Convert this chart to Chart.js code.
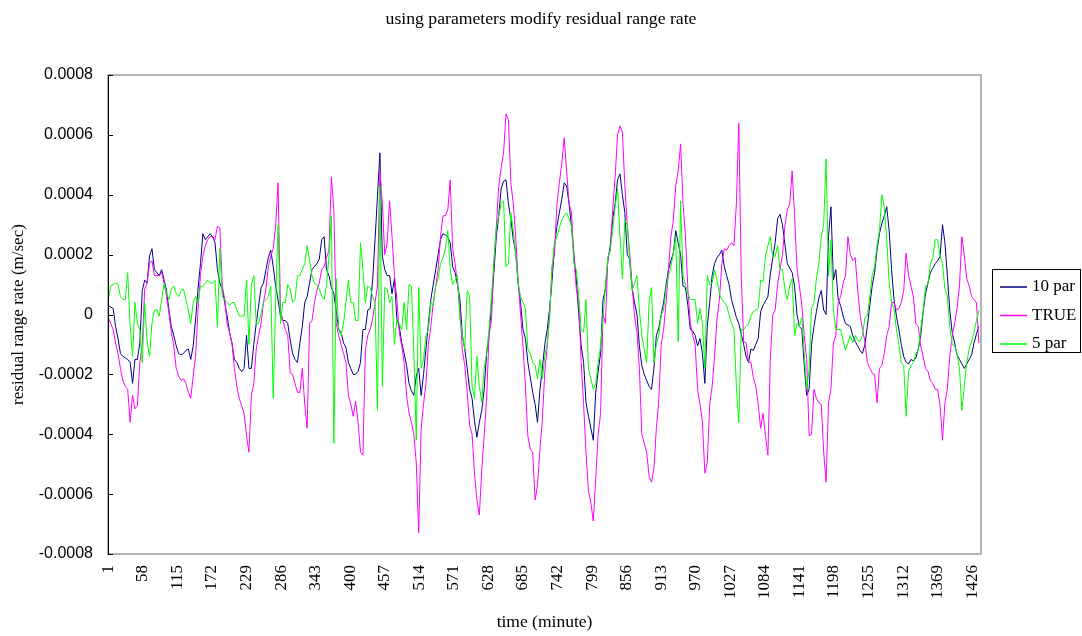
<!DOCTYPE html>
<html>
<head>
<meta charset="utf-8">
<script src="https://cdn.jsdelivr.net/npm/chart.js@4.4.1/dist/chart.umd.min.js"></script>
<style>
  html, body { margin: 0; padding: 0; background: #fff; }
  canvas { display: block; }
</style>
</head>
<body>
<canvas id="residualChart" width="1082" height="636"></canvas>
<script>
// residuals every 4 minutes (minute 1, 5, 9, ...), in units of 1e-4 m/sec
const UNIT = 1e-4;
const STEP = 4;

const par10 = [
  0.3, 0.25, 0.2, -0.4, -0.8, -1.3, -1.4, -1.45, -1.5, -1.6, -2.3, -1.5, -1.5, -0.95, 0.8, 1.15, 1.05, 1.95, 2.2, 1.5,
  1.4, 1.3, 1.5, 1.15, 0.8, 0.15, -0.4, -0.7, -1.05, -1.3, -1.35, -1.3, -1.2, -1.15, -1.5, -1.05, -0.15, 0.85, 1.7, 2.7,
  2.5, 2.6, 2.7, 2.6, 2.4, 1.5, 1.05, 0.85, 0.4, -0.05, -0.6, -0.95, -1.5, -1.6, -1.8, -1.9, -1.8, -0.7, -1.8, -1.8,
  -1.0, -0.3, 0.3, 0.9, 1.05, 1.5, 1.9, 2.15, 1.6, 0.95, 0.5, -0.05, -0.2, -0.2, -0.3, -0.85, -1.3, -1.5, -1.6, -0.95,
  -0.4, 0.4, 0.6, 1.05, 1.5, 1.6, 1.7, 1.85, 2.5, 2.6, 1.5, 1.3, 0.9, 0.7, 0.1, -0.5, -0.6, -0.95, -1.1, -1.6,
  -1.8, -2.0, -2.0, -1.9, -1.6, -0.5, -0.5, 0.15, 0.2, 1.15, 2.5, 3.95, 5.4, 1.95, 1.5, 1.3, 1.3, 0.7, 1.2, -0.15,
  -0.4, -0.95, -1.3, -1.7, -2.3, -2.55, -2.7, -2.05, -1.8, -2.7, -2.0, -1.15, -0.3, 0.5, 1.0, 1.5, 2.0, 2.5, 2.7, 2.65,
  2.6, 2.4, 1.6, 1.4, 1.0, 0.5, -0.7, -1.15, -1.8, -2.5, -2.8, -3.55, -4.1, -3.6, -3.2, -2.5, -1.3, -0.7, 0.3, 1.4,
  2.6, 3.3, 4.2, 4.45, 4.5, 3.7, 3.2, 2.5, 2.1, 1.05, 0.4, -0.5, -0.8, -1.6, -2.1, -2.6, -3.0, -3.6, -2.5, -1.8,
  -1.0, -0.5, 0.2, 1.15, 2.3, 2.95, 3.4, 3.85, 4.4, 4.3, 3.7, 2.95, 2.0, 1.15, 0.0, -1.05, -1.6, -2.95, -3.4, -3.8,
  -4.2, -2.6, -1.9, -1.3, 0.5, 0.85, 1.8, 2.3, 3.2, 3.7, 4.5, 4.7, 4.0, 3.4, 2.0, 1.85, 0.9, 0.4, 0.0, -1.05,
  -1.7, -2.0, -2.2, -2.4, -2.5, -1.8, -0.7, -0.45, 0.0, 0.4, 1.0, 1.5, 1.8, 2.05, 2.8, 2.4, 2.0, 0.95, 0.9, 0.3,
  -0.5, -0.55, -0.7, -1.05, -0.8, -1.3, -2.3, -0.4, 0.4, 1.3, 1.7, 1.9, 2.0, 2.15, 1.6, 1.3, 1.0, 0.5, 0.2, -0.1,
  -0.3, -0.65, -1.0, -1.4, -1.6, -1.15, -1.2, -1.0, -0.8, 0.1, 0.3, 0.45, 0.6, 1.35, 1.9, 2.4, 3.2, 3.35, 3.0, 2.35,
  1.7, 1.55, 1.4, 0.95, 0.0, -0.4, -0.5, -1.7, -2.7, -2.5, -1.0, -0.4, 0.1, 0.55, 0.8, 0.15, 0.0, 2.6, 3.6, 1.15,
  1.5, 0.5, 0.3, -0.05, -0.3, -0.35, -0.4, -0.7, -0.9, -1.05, -1.2, -1.3, -1.0, -0.4, 0.3, 0.95, 1.4, 2.15, 2.7, 3.05,
  3.3, 3.6, 2.8, 1.5, 0.5, -0.05, -0.5, -1.0, -1.4, -1.6, -1.65, -1.5, -1.55, -1.45, -1.15, -0.7, 0.05, 0.7, 1.05, 1.4,
  1.55, 1.7, 1.8, 1.95, 3.0, 2.4, 1.3, 0.15, -0.6, -0.95, -1.35, -1.5, -1.65, -1.8, -1.65, -1.5, -1.35, -0.95, -0.65, -0.4
];

const truth = [
  -0.1, -0.3, -0.5, -0.95, -1.3, -1.8, -2.2, -2.4, -2.5, -3.6, -2.7, -3.15, -3.05, -1.6, -1.0, 0.85, 1.05, 1.7, 1.8, 1.3,
  1.3, 1.3, 1.4, 1.05, 0.6, 0.05, -0.6, -1.05, -1.8, -2.05, -2.2, -2.15, -2.3, -2.6, -2.8, -2.05, -1.4, 0.15, 1.3, 1.95,
  2.3, 2.5, 2.6, 2.6, 2.5, 2.95, 2.9, 0.95, 0.5, -0.3, -0.6, -0.95, -1.8, -2.4, -2.8, -3.05, -3.3, -4.05, -4.6, -2.7,
  -2.3, -1.15, -0.7, -0.3, 0.4, 0.85, 1.6, 1.95, 2.2, 2.95, 4.4, 0.15, -0.2, -0.5, -0.7, -1.95, -2.0, -2.3, -2.6, -2.6,
  -1.8, -3.0, -3.8, -0.3, -0.2, 0.4, 0.8, 1.05, 1.5, 1.6, 1.9, 2.15, 4.6, 3.5, -0.3, -0.7, -1.0, -1.3, -1.6, -2.7,
  -3.0, -3.4, -2.9, -3.6, -4.6, -4.7, -1.2, -0.7, -0.5, -0.15, 0.4, 0.95, 4.8, 3.7, 2.0, 2.4, 3.8, 2.6, 1.3, 0.5,
  -0.6, -1.05, -1.6, -2.7, -3.3, -3.6, -4.0, -4.95, -7.3, -3.8, -3.0, -2.3, -1.0, -0.4, 0.4, 0.95, 1.5, 2.6, 3.3, 3.3,
  3.5, 4.5, 2.2, 1.7, 1.0, 0.15, -1.2, -1.7, -2.6, -3.7, -4.0, -5.3, -6.2, -6.7, -5.2, -4.05, -2.8, -0.7, -0.2, 1.7,
  2.9, 4.3, 4.9, 5.4, 6.7, 6.5, 4.4, 3.7, 2.6, 1.15, 0.0, -1.05, -2.4, -4.05, -4.5, -4.6, -6.2, -5.7, -4.5, -3.5,
  -1.9, -1.05, 0.0, 1.6, 2.0, 3.7, 4.4, 5.05, 5.9, 4.8, 3.7, 3.4, 1.9, 0.85, 0.4, -1.6, -3.0, -4.6, -5.9, -6.3,
  -6.9, -5.5, -4.0, -3.3, 0.0, -0.3, 1.9, 2.15, 3.5, 4.6, 6.0, 6.3, 6.1, 4.3, 3.0, 2.05, 1.0, -0.05, -0.6, -1.8,
  -4.0, -4.3, -4.6, -5.4, -5.6, -5.15, -3.8, -2.9, -1.0, -0.5, 0.4, 1.5, 2.6, 3.15, 4.3, 4.8, 5.7, 3.7, 2.6, 0.85,
  -0.3, -0.7, -1.0, -2.5, -3.0, -3.6, -5.3, -4.95, -3.0, -2.4, -1.4, -0.15, 0.5, 1.7, 2.2, 2.15, 2.3, 2.4, 2.3, 3.7,
  6.4, 1.3, -0.9, -0.95, -1.6, -1.6, -2.1, -2.4, -3.0, -3.8, -3.3, -4.05, -4.7, -1.5, 0.0, 0.15, 1.0, 1.5, 2.0, 2.95,
  3.5, 3.7, 4.8, 3.3, 1.5, 0.95, 0.3, -0.7, -1.5, -4.05, -4.0, -2.5, -2.8, -2.95, -3.0, -4.6, -5.6, -2.95, -2.5, -0.95,
  -0.7, 0.4, 0.6, 1.05, 1.3, 2.6, 2.0, 1.8, 1.9, 0.85, 0.0, -0.5, -0.9, -1.6, -1.8, -1.95, -2.0, -2.95, -1.8, -1.7,
  -1.3, -0.7, -0.4, 0.4, 0.4, 0.15, 0.2, 0.4, 0.8, 2.05, 1.3, 0.95, 0.6, -0.3, -0.4, -1.05, -1.4, -1.8, -1.9, -2.2,
  -2.3, -2.5, -2.5, -3.05, -4.2, -2.95, -2.5, -1.4, -0.7, -0.3, 0.2, 0.95, 2.6, 1.95, 1.2, 0.95, 0.6, 0.5, 0.4, -0.95
];

const par5 = [
  0.5, 0.95, 1.0, 1.05, 1.0, 0.6, 0.5, 0.5, 1.4, -0.4, -1.4, 0.4, -0.3, -0.5, -1.6, 0.4, -0.9, -1.4, -0.3, 0.15,
  0.15, -0.05, 0.5, 1.05, 0.7, 0.5, 0.85, 0.95, 0.7, 0.6, 0.8, 0.85, 0.5, 0.15, -0.3, 0.4, 0.6, 0.4, 0.95, 0.95,
  1.05, 1.15, 1.05, 1.05, 1.15, -0.4, 2.2, 0.6, 0.5, 0.4, 0.3, 0.4, 0.4, 0.15, -0.05, -0.05, -0.05, 1.15, -1.0, 1.0,
  1.3, -0.3, -0.3, 0.05, 0.4, 0.5, 0.6, 0.95, -2.8, 0.4, 3.0, -0.3, 0.4, 0.4, 1.0, 0.85, 0.4, 0.5, 1.3, 1.3,
  1.5, 1.7, 2.3, 1.8, 1.3, 1.05, 1.0, 0.85, 0.6, 0.5, 1.0, 1.95, 3.3, -4.3, 1.2, -0.5, -0.7, -0.3, 0.4, 1.15,
  0.4, 0.4, -0.2, -0.2, 2.4, 1.5, 0.4, 0.95, 0.9, 0.6, 0.4, -3.2, 4.3, -2.4, 0.9, 0.85, 0.4, 0.6, -1.0, -0.15,
  -0.3, -0.5, 0.4, -0.5, 1.0, 0.95, -1.3, -4.2, 0.9, -1.8, -1.5, -0.7, -0.5, 0.4, 0.3, 0.95, 1.2, 1.7, 1.9, 2.2,
  2.8, 1.5, 1.0, 1.15, 1.3, -0.15, -0.7, -1.15, 0.8, 0.6, -2.4, -2.8, -1.4, -2.4, -2.9, -1.8, -1.3, -0.5, 0.6, 1.8,
  2.9, 3.3, 3.7, 3.8, 1.6, 1.7, 3.4, 2.8, 2.0, 1.05, 0.6, 0.4, 0.2, -1.15, -1.3, -1.6, -1.7, -2.15, -1.5, -2.15,
  -1.4, -0.95, -0.1, 1.6, 2.4, 2.6, 2.9, 3.15, 3.3, 3.4, 3.2, 2.95, 1.7, 1.5, 0.6, -0.5, -0.6, 0.5, -1.8, -2.15,
  -2.5, -2.3, -1.6, -1.05, -0.1, 0.95, 1.9, 2.15, 2.8, 3.6, 4.2, 2.6, 1.2, 3.15, 3.0, 1.8, 0.8, 1.05, 1.3, 0.15,
  -0.7, -1.15, -1.6, 0.4, 0.9, -1.6, -1.0, -0.7, 0.0, 0.15, 0.9, 1.3, 1.6, 2.05, 2.6, -0.9, 3.8, 1.3, 1.0, 0.7,
  0.5, 0.5, 0.5, -0.3, 0.2, -0.3, -1.8, 1.3, 1.0, 1.05, 1.5, 1.15, 0.7, 0.5, 0.4, 0.3, 0.0, -0.3, -0.5, -2.4,
  -3.6, -0.5, -0.5, -0.4, -0.3, -0.05, 0.1, 0.15, 0.2, 1.15, 1.1, 1.95, 2.3, 2.6, 1.9, 1.95, 2.3, 1.5, 1.5, 0.85,
  0.5, 0.95, 1.2, -0.7, -0.3, -0.4, -0.1, -1.3, -2.5, -1.8, 0.2, 0.4, 1.2, 1.7, 2.6, 3.0, 5.2, 1.3, 2.5, 0.15,
  -0.5, -0.5, -0.5, -0.85, -1.2, -0.95, -0.7, -0.95, -0.7, -0.85, -0.9, -0.7, -0.1, -0.05, 0.6, 1.3, 1.6, 2.3, 2.8, 4.0,
  3.6, 2.5, 1.1, 0.4, 0.2, -0.5, -1.0, -1.6, -1.7, -3.4, -1.9, -1.7, -1.6, -1.3, -1.2, -0.5, 0.1, 0.95, 1.0, 1.7,
  1.9, 2.5, 2.5, 1.95, 1.7, 0.85, 0.6, -0.4, -1.0, -1.05, -1.3, -1.8, -3.2, -2.4, -1.6, -1.15, -0.9, -0.6, -0.2, 0.15
];

const seriesNames = ['10 par', 'TRUE', '5 par'];
const seriesColors = ['#000080', '#FF00FF', '#00FF00'];
const xTickLabels = [1, 58, 115, 172, 229, 286, 343, 400, 457, 514, 571, 628, 685,
  742, 799, 856, 913, 970, 1027, 1084, 1141, 1198, 1255, 1312, 1369, 1426];
const yTickValues = [-0.0008, -0.0006, -0.0004, -0.0002, 0, 0.0002, 0.0004, 0.0006, 0.0008];

const toPoints = arr => arr.map((v, i) => ({ x: 1 + STEP * i, y: v * UNIT }));

const serif = "'Liberation Serif', 'DejaVu Serif', serif";
const sans = "'Liberation Sans', Arial, sans-serif";

// plot area border, left axis with inside ticks, and the boxed legend
const excelFrame = {
    id: 'excelFrame',
    afterDraw(chart) {
        const { ctx, chartArea: a, scales } = chart;
        ctx.save();
        ctx.strokeStyle = '#b4b4b4';
        ctx.lineWidth = 2;
        ctx.strokeRect(a.left, a.top, a.right - a.left, a.bottom - a.top);

        ctx.strokeStyle = '#000';
        ctx.lineWidth = 1;
        ctx.beginPath();
        ctx.moveTo(a.left + 0.5, a.top);
        ctx.lineTo(a.left + 0.5, a.bottom);
        yTickValues.forEach(v => {
            const y = Math.round(scales.y.getPixelForValue(v)) + 0.5;
            ctx.moveTo(a.left, y);
            ctx.lineTo(a.left + 5, y);
        });
        ctx.stroke();

        // legend
        const lx = 992, ly = 269, lw = 88, lh = 83;
        ctx.strokeStyle = '#000';
        ctx.strokeRect(lx + 0.5, ly + 0.5, lw, lh);
        ctx.font = '17px ' + serif;
        ctx.textBaseline = 'middle';
        ctx.fillStyle = '#000';
        chart.data.datasets.forEach((ds, i) => {
            const y = ly + 18 + i * 28.5;
            ctx.strokeStyle = ds.borderColor;
            ctx.lineWidth = 1.5;
            ctx.beginPath();
            ctx.moveTo(lx + 8, y);
            ctx.lineTo(lx + 35, y);
            ctx.stroke();
            ctx.fillText(ds.label, lx + 40, y);
        });
        ctx.restore();
    }
};

const ctx = document.getElementById('residualChart').getContext('2d');

const residualChart = new Chart(ctx, {
    type: 'line',
    data: {
        datasets: [par10, truth, par5].map((arr, i) => ({
            label: seriesNames[i],
            data: toPoints(arr),
            borderColor: seriesColors[i],
            backgroundColor: seriesColors[i],
            borderWidth: 1,
            pointRadius: 0,
            tension: 0,
            fill: false,
            order: 2 - i   // later series drawn on top, as in the original
        }))
    },
    options: {
        responsive: false,
        animation: false,
        devicePixelRatio: 1,
        layout: { padding: 0 },
        scales: {
            x: {
                type: 'linear',
                min: 0.5,
                max: 1440.5,
                afterBuildTicks: scale => { scale.ticks = xTickLabels.map(v => ({ value: v })); },
                afterFit: scale => { scale.height = 82; },
                grid: { display: false, drawTicks: false },
                border: { display: false },
                ticks: {
                    autoSkip: false,
                    minRotation: 90,
                    maxRotation: 90,
                    padding: 11,
                    color: '#000',
                    font: { family: serif, size: 17 },
                    callback: v => String(v)
                },
                title: {
                    display: true,
                    text: 'time (minute)',
                    color: '#000',
                    font: { family: serif, size: 17.5 },
                    padding: { top: 0, bottom: 3 }
                }
            },
            y: {
                min: -0.0008,
                max: 0.0008,
                afterBuildTicks: scale => { scale.ticks = yTickValues.map(v => ({ value: v })); },
                afterFit: scale => { scale.width = 108; },
                grid: { display: false, drawTicks: false },
                border: { display: false },
                ticks: {
                    padding: 15,
                    color: '#000',
                    font: { family: sans, size: 16 },
                    callback: v => (v === 0 ? '0' : v.toFixed(4))
                },
                title: {
                    display: true,
                    text: 'residual range rate (m/sec)',
                    color: '#000',
                    font: { family: serif, size: 17 },
                    padding: { top: 8, bottom: 0 }
                }
            },
            // empty right-hand axis that keeps room for the legend box
            legendRoom: {
                position: 'right',
                afterFit: scale => { scale.width = 101; },
                grid: { display: false, drawTicks: false },
                border: { display: false },
                ticks: { display: false }
            }
        },
        plugins: {
            legend: { display: false },
            tooltip: { enabled: false },
            title: {
                display: true,
                text: 'using parameters modify residual range rate',
                color: '#000',
                font: { family: serif, size: 17.7, weight: 'normal' },
                padding: { top: 9, bottom: 44.8 }
            }
        }
    },
    plugins: [excelFrame]
});
</script>
</body>
</html>
